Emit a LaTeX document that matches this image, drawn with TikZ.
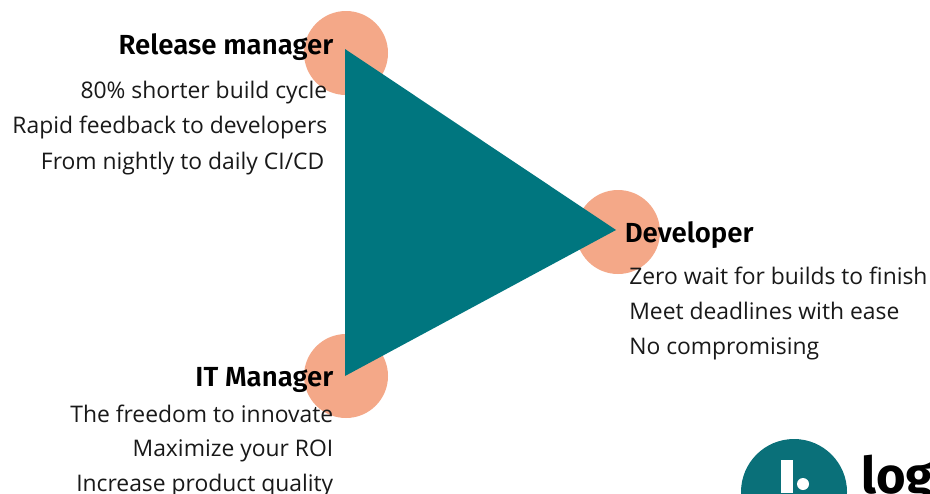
\documentclass[tikz,border=0pt]{standalone}
\usepackage{fontspec}
\setmainfont{Open Sans}
\newfontfamily\headfont{Fira Sans SemiBold}
\newfontfamily\logofont{Fira Sans}
\definecolor{teal1}{HTML}{00767F}
\definecolor{teal2}{HTML}{0A7079}
\definecolor{salmon1}{HTML}{F4A888}
\tikzset{
  px/.style={x=0.75pt,y=-0.75pt},
  blob/.style={circle,fill=salmon1,minimum size=63pt,inner sep=0pt},
  head/.style={font=\headfont\fontsize{20.7}{22}\selectfont,inner sep=0pt,text=black},
  line/.style={font=\fontsize{17.15}{20}\selectfont,inner sep=0pt,text=black!90}
}
\begin{document}
\begin{tikzpicture}[px]
\useasboundingbox (0,0) rectangle (930,493);
\fill[white] (0,0) rectangle (930,493);
\node[blob] (c1) at (346,53) {};
\node[blob] (c2) at (618,232) {};
\node[blob] (c3) at (346,376) {};
\fill[teal1] (345,49) -- (616,230) -- (345,376) -- cycle;
\node[head,anchor=base east] (t1) at (333.5,54) {Release manager};
\node[line,anchor=base east] (a1) at (327.5,98) {80\% shorter build cycle};
\node[line,anchor=base east] (a2) at (327.5,133) {Rapid feedback to developers};
\node[line,anchor=base east] (a3) at (324.5,169) {From nightly to daily CI/CD};
\node[head,anchor=base west] (t2) at (624.5,242) {Developer};
\node[line,anchor=base west] (b1) at (629,284) {Zero wait for builds to finish};
\node[line,anchor=base west] (b2) at (629,319) {Meet deadlines with ease};
\node[line,anchor=base west] (b3) at (629,354) {No compromising};
\node[head,anchor=base east] (t3) at (333.5,386) {IT Manager};
\node[line,anchor=base east] (d1) at (333.5,422) {The freedom to innovate};
\node[line,anchor=base east] (d2) at (333.5,456) {Maximize your ROI};
\node[line,anchor=base east] (d3) at (333.5,491) {Increase product quality};
\begin{scope}
\clip (0,0) rectangle (930,493);
\fill[teal2] (794,492) circle (53);
\fill[white] (781,460) rectangle (793,493);
\fill[white] (803,484) circle (6);
\node[font=\logofont\fontsize{38}{40}\selectfont\bfseries,anchor=base west,inner sep=0pt] (lg) at (861,493) {log};
\end{scope}
\end{tikzpicture}
\end{document}
